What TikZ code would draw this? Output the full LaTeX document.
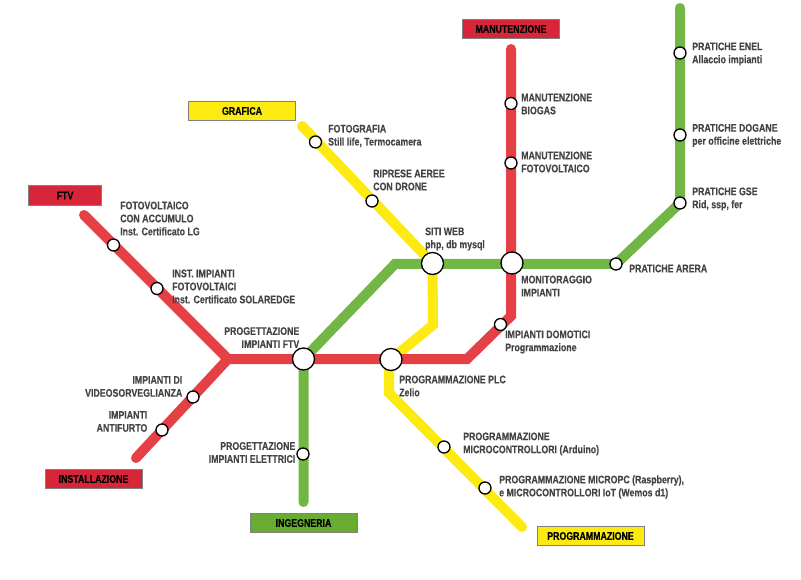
\documentclass[tikz,border=0pt]{standalone}
\usepackage{fontspec}
\usetikzlibrary{backgrounds}
\setmainfont{Liberation Sans}[FakeStretch=0.8, BoldFeatures={FakeBold=0.3}]
\definecolor{linered}{HTML}{E54045}
\definecolor{linegreen}{HTML}{72B645}
\definecolor{lineyellow}{HTML}{FCEA10}
\definecolor{boxred}{HTML}{D7263A}
\definecolor{boxgreen}{HTML}{68AC31}
\definecolor{labelgray}{HTML}{444444}
\tikzset{
    metroline/.style={line width=10pt, line cap=round, line join=miter},
    stop/.style={circle, draw=black, fill=white, line width=1.3pt, minimum size=12pt, inner sep=0pt},
    hub/.style={circle, draw=black, fill=white, line width=1.3pt, minimum size=22pt, inner sep=0pt},
    linebox/.style={draw=gray, line width=0.6pt, minimum height=19.5pt, inner sep=0pt, font=\fontsize{11}{13}\selectfont\bfseries},
    lblleft/.style={anchor=west, align=left, inner sep=0pt, text=labelgray, font=\fontsize{11}{13}\selectfont\bfseries},
    lblright/.style={anchor=east, align=right, inner sep=0pt, text=labelgray, font=\fontsize{11}{13}\selectfont\bfseries},
}
\begin{document}
\begin{tikzpicture}[x=1pt, y=-1pt]
    \useasboundingbox (0,0) rectangle (801,580);

    % Line boxes
    \node[linebox, fill=boxred, minimum width=73pt] (ftvbox) at (65,195.5) {FTV};
    \node[linebox, fill=boxred, minimum width=97pt] (instbox) at (93.5,479) {INSTALLAZIONE};
    \node[linebox, fill=lineyellow, minimum width=107pt] (grafbox) at (242,111) {GRAFICA};
    \node[linebox, fill=boxred, minimum width=97pt] (manbox) at (511,29) {MANUTENZIONE};
    \node[linebox, fill=boxgreen, minimum width=107pt] (ingbox) at (303.5,523) {INGEGNERIA};
    \node[linebox, fill=lineyellow, minimum width=107pt] (progbox) at (590.5,536) {PROGRAMMAZIONE};

    % Free ends and bends
    \coordinate (ftvend) at (84,215);
    \coordinate (instend) at (136,458);
    \coordinate (fork) at (228,359);
    \coordinate (redlow) at (467,359);
    \coordinate (redhigh) at (511,316);
    \coordinate (mantop) at (511,49);
    \coordinate (ingend) at (303.5,502);
    \coordinate (greenbend) at (395,264);
    \coordinate (enelend) at (680,8);
    \coordinate (grafend) at (302,126);
    \coordinate (yelhigh) at (433,325);
    \coordinate (yelhub) at (389,360);
    \coordinate (yelbend) at (389,393);
    \coordinate (progend) at (522,527);

    % Hubs and stops
    \node[hub] (ftvhub) at (303.5,359) {};
    \node[hub] (plchub) at (391,359.5) {};
    \node[hub] (webhub) at (432.5,263.5) {};
    \node[hub] (monhub) at (512,263) {};

    \node[stop] (accumulo) at (113.5,245) {};
    \node[stop] (solaredge) at (157,288.5) {};
    \node[stop] (video) at (193,397) {};
    \node[stop] (antifurto) at (162,430) {};
    \node[stop] (domotici) at (500.5,324.5) {};
    \node[stop] (biogas) at (511,103.5) {};
    \node[stop] (fotov) at (511,163) {};
    \node[stop] (elettrici) at (303,454) {};
    \node[stop] (arera) at (616,264) {};
    \node[stop] (gse) at (680,203) {};
    \node[stop] (dogane) at (680,135) {};
    \node[stop] (enel) at (680,53) {};
    \node[stop] (foto) at (315.5,142) {};
    \node[stop] (riprese) at (372,201) {};
    \node[stop] (arduino) at (444,447) {};
    \node[stop] (micropc) at (485,488) {};

    % Lines
    \begin{pgfonlayer}{background}
    \draw[metroline, lineyellow] (grafend) -- (webhub.center) -- (yelhigh) -- (plchub.center);
    \draw[metroline, lineyellow] (yelhub) -- (yelbend) -- (progend);
    \draw[metroline, linegreen] (ingend) -- (ftvhub.center) -- (greenbend) -- (arera.center) -- (gse.center) -- (enelend);
    \draw[metroline, linered] (ftvend) -- (fork) -- (instend);
    \draw[metroline, linered] (fork) -- (redlow) -- (redhigh) -- (mantop);
    \end{pgfonlayer}

    % Labels
    \node[lblleft] (accumulolbl) at (120,218.5) {FOTOVOLTAICO\\CON ACCUMULO\\Inst. Certificato LG};
    \node[lblleft] (solaredgelbl) at (172,286.5) {INST. IMPIANTI\\FOTOVOLTAICI\\Inst. Certificato SOLAREDGE};
    \node[lblright] (ftvlbl) at (299.5,337.5) {PROGETTAZIONE\\IMPIANTI FTV};
    \node[lblright] (videolbl) at (182.5,386.5) {IMPIANTI DI\\VIDEOSORVEGLIANZA};
    \node[lblright] (antifurtolbl) at (147.5,421.5) {IMPIANTI\\ANTIFURTO};
    \node[lblright] (elettricilbl) at (295.5,452.5) {PROGETTAZIONE\\IMPIANTI ELETTRICI};
    \node[lblleft] (fotolbl) at (328,136) {FOTOGRAFIA\\Still life, Termocamera};
    \node[lblleft] (ripreselbl) at (373,180) {RIPRESE AEREE\\CON DRONE};
    \node[lblleft] (weblbl) at (425,239) {SITI WEB\\php, db mysql};
    \node[lblleft] (biogaslbl) at (521,104) {MANUTENZIONE\\BIOGAS};
    \node[lblleft] (fotovlbl) at (521,162) {MANUTENZIONE\\FOTOVOLTAICO};
    \node[lblleft] (enellbl) at (692,54) {PRATICHE ENEL\\Allaccio impianti};
    \node[lblleft] (doganelbl) at (692,135.5) {PRATICHE DOGANE\\per officine elettriche};
    \node[lblleft] (gselbl) at (692,199) {PRATICHE GSE\\Rid, ssp, fer};
    \node[lblleft] (arerelbl) at (629,268.5) {PRATICHE ARERA};
    \node[lblleft] (monlbl) at (521,286) {MONITORAGGIO\\IMPIANTI};
    \node[lblleft] (domoticilbl) at (505,342) {IMPIANTI DOMOTICI\\Programmazione};
    \node[lblleft] (plclbl) at (399,386) {PROGRAMMAZIONE PLC\\Zelio};
    \node[lblleft] (arduinolbl) at (463,444) {PROGRAMMAZIONE\\MICROCONTROLLORI (Arduino)};
    \node[lblleft] (micropclbl) at (499,487) {PROGRAMMAZIONE MICROPC (Raspberry),\\e MICROCONTROLLORI IoT (Wemos d1)};
\end{tikzpicture}
\end{document}
